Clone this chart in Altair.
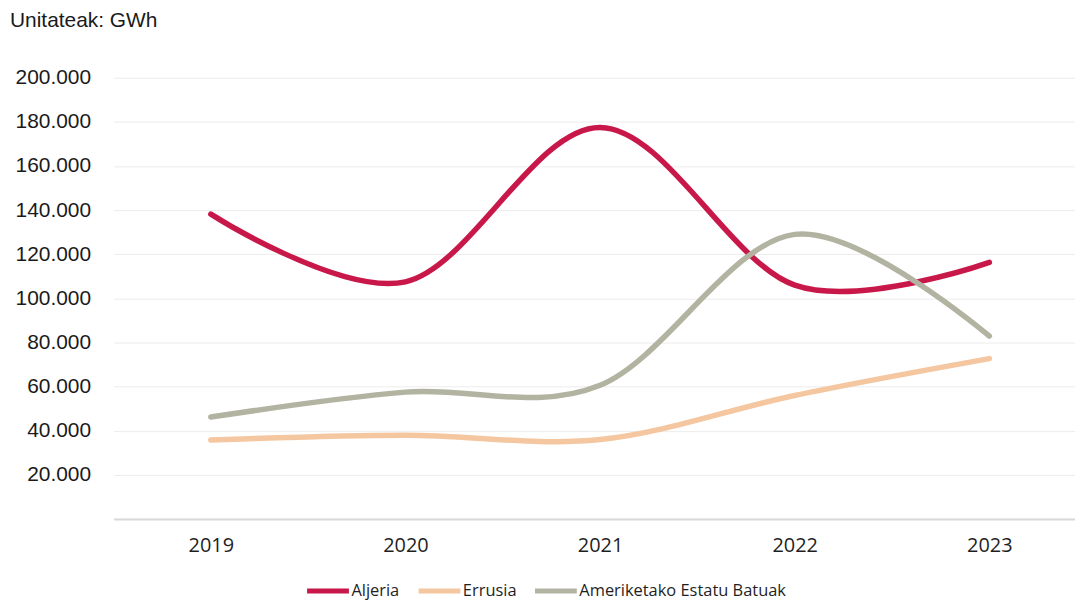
import altair as alt
import pandas as pd

years = [2019, 2020, 2021, 2022, 2023]
aljeria = [138200, 107500, 177500, 106000, 116300]
errusia = [35800, 38000, 36000, 56000, 72700]
ameriketako = [46200, 57500, 60600, 129000, 82900]

series_names = ["Aljeria", "Errusia", "Ameriketako Estatu Batuak"]
series_values = [aljeria, errusia, ameriketako]
series_colors = ["#C8184A", "#F4C7A1", "#B2B3A1"]

rows = []
for name, vals in zip(series_names, series_values):
    for y, v in zip(years, vals):
        rows.append({"urtea": y, "balioa": v, "herrialdea": name})
df = pd.DataFrame(rows)

y_ticks = list(range(0, 200001, 20000))

chart = alt.Chart(df).mark_line(
    interpolate="cardinal", tension=0, strokeWidth=5.5, strokeCap="round"
).encode(
    x=alt.X(
        "urtea:Q",
        scale=alt.Scale(domain=[2018.5, 2023.44], nice=False, zero=False),
        axis=alt.Axis(
            values=years, format="d", title=None, grid=False, ticks=False,
            labelFont="Open Sans", labelFontSize=20, labelColor="#1f1f1f",
            labelPadding=17, domain=True, domainColor="#d9d9d9", domainWidth=2,
        ),
    ),
    y=alt.Y(
        "balioa:Q",
        scale=alt.Scale(domain=[0, 200000], nice=False),
        axis=alt.Axis(
            values=y_ticks, title=None, grid=True, gridColor="#ececec", gridWidth=1,
            ticks=False, domain=False,
            labelExpr="datum.value == 0 ? '' : replace(format(datum.value, ',d'), ',', '.')",
            labelFont="Liberation Sans", labelFontSize=21, labelColor="#1a1a1a",
            labelPadding=23,
        ),
    ),
    color=alt.Color(
        "herrialdea:N",
        scale=alt.Scale(domain=series_names, range=series_colors),
        sort=series_names,
        legend=alt.Legend(
            title=None, orient="none", direction="horizontal",
            legendX=192, legendY=492,
            symbolType="stroke", symbolSize=1764, symbolStrokeWidth=5,
            labelFont="Open Sans", labelFontSize=16.5, labelColor="#1f1f1f",
            labelOffset=0, columnPadding=8, labelLimit=400,
        ),
    ),
).properties(
    width=966,
    height=443.3,
    title=alt.TitleParams(
        "Unitateak: GWh", anchor="start", frame="group", dx=-104, offset=36,
        font="Liberation Sans", fontSize=21, fontWeight="normal", color="#1a1a1a",
    ),
    autosize=alt.AutoSizeParams(type="none"),
    padding={"left": 106, "top": 68.7, "right": 0, "bottom": 80},
).configure_view(stroke=None)

chart.save("out.html", embed_options={"renderer": "svg", "actions": False})
